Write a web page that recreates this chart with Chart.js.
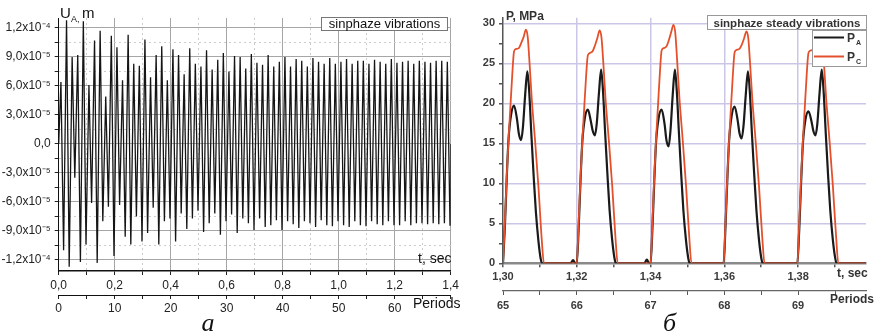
<!DOCTYPE html>
<html>
<head>
<meta charset="utf-8">
<script src="https://cdn.jsdelivr.net/npm/chart.js@4.4.1/dist/chart.umd.min.js"></script>
<style>
  html, body { margin: 0; padding: 0; background: #fff; }
  #wrap { position: relative; width: 878px; height: 336px; overflow: hidden; }
  #left { position: absolute; left: 0; top: 0; }
  #right { position: absolute; left: 470px; top: 0; }
</style>
</head>
<body>
<div id="wrap">
  <canvas id="left" width="470" height="336"></canvas>
  <canvas id="right" width="408" height="336"></canvas>
</div>
<script>
// ---- panel a: displacement U_A, in units of 1e-5 m ----
const periodSec = 0.02;
const firstPeakSec = 0.008;
const troughLagSec = 0.0095;
const peakMax = [
  6.4, 12.8, 9.0, 9.2, 12.7, 6.1, 10.7, 11.7, 4.9, 11.2,
  10.0, 6.6, 11.3, 8.3, 8.1, 10.8, 6.9, 9.2, 10.1, 6.6,
  9.8, 9.2, 7.2, 9.9, 8.3, 8.0, 9.7, 7.7, 8.7, 9.4,
  7.5, 9.1, 9.0, 7.8, 9.3, 8.4, 8.2, 9.2, 8.0, 8.5,
  9.0, 8.0, 8.8, 8.6, 8.0, 8.9, 8.5, 8.3, 8.9, 8.3,
  8.5, 8.8, 8.3, 8.6, 8.6, 8.3, 8.7, 8.5, 8.3, 8.8,
  8.4, 8.5, 8.6, 8.3, 8.6, 8.5, 8.4, 8.6, 8.6, 8.5
];
const peakMin = [
  -11.0, -12.7, -3.5, -12.2, -10.4, -6.1, -12.3, -8.0, -6.5, -11.6,
  -6.3, -9.6, -10.4, -7.5, -10.1, -9.2, -6.6, -10.4, -8.0, -7.7,
  -10.1, -7.2, -8.8, -7.7, -6.9, -9.1, -8.2, -7.2, -9.4, -8.0,
  -7.3, -9.2, -7.7, -8.2, -8.9, -7.7, -8.6, -8.4, -7.9, -8.9,
  -8.0, -8.3, -8.7, -8.0, -8.2, -8.6, -7.9, -8.4, -8.5, -8.0,
  -8.4, -8.6, -8.0, -8.4, -8.5, -8.0, -8.3, -8.4, -8.0, -8.4,
  -8.4, -8.0, -8.4, -8.2, -8.2, -8.3, -8.2, -8.3, -8.2, -8.4
];

// ---- panel б: pressures, MPa ----
const pulseStartSec = [1.3000, 1.3200, 1.3400, 1.3598, 1.3798];
const offsetA_ms = [0, 0.5, 1.0, 1.5, 2.2, 3.0, 3.8, 4.3, 4.9, 5.4, 6.0, 6.6, 7.1, 7.7, 8.3, 8.9, 9.6, 10.2, 10.6];
const pA1 = [0, 4.5, 10.5, 15.5, 18.6, 19.7, 18.0, 16.2, 15.4, 17.0, 21.0, 24.0, 21.5, 16.0, 11.0, 6.5, 2.8, 0.6, 0];
const pA2 = [0, 4.3, 10.2, 15.2, 18.2, 19.2, 17.8, 16.6, 16.0, 17.4, 21.2, 24.2, 21.6, 16.2, 11.2, 6.6, 2.9, 0.7, 0];
const pA3 = [0, 4.3, 10.2, 15.2, 18.2, 19.2, 17.4, 15.4, 14.6, 16.6, 21.0, 24.2, 21.6, 16.2, 11.2, 6.6, 2.9, 0.7, 0];
const pA4 = [0, 4.5, 10.4, 15.4, 18.5, 19.6, 17.9, 16.3, 15.6, 17.2, 21.0, 24.0, 21.5, 16.0, 11.1, 6.6, 2.9, 0.7, 0];
const pA5 = [0, 4.2, 10.0, 15.0, 18.0, 19.0, 17.8, 16.6, 16.0, 17.4, 21.2, 24.2, 21.6, 16.2, 11.2, 6.7, 3.0, 0.8, 0];
const offsetC_ms = [0, 0.5, 1.0, 1.5, 2.0, 2.5, 3.0, 3.6, 4.3, 4.9, 5.6, 6.2, 6.7, 7.2, 7.8, 8.7, 9.6, 10.5, 11.1];
const pC1 = [0, 5.0, 10.8, 15.5, 19.5, 23.5, 26.5, 26.8, 26.9, 27.5, 28.3, 29.2, 28.3, 25.0, 20.5, 15.3, 9.6, 3.0, 0];
const pC2 = [0, 5.0, 10.6, 15.3, 19.3, 23.2, 26.0, 26.3, 26.5, 27.2, 28.2, 29.1, 28.2, 25.0, 20.5, 15.3, 9.7, 3.1, 0];
const pC3 = [0, 5.0, 10.8, 15.6, 19.6, 23.6, 26.6, 26.9, 27.1, 27.8, 28.9, 29.8, 28.8, 25.4, 20.8, 15.5, 9.8, 3.2, 0];
const pC4 = [0, 5.0, 10.8, 15.5, 19.5, 23.5, 26.4, 26.7, 26.8, 27.3, 28.2, 29.0, 28.1, 24.8, 20.4, 15.2, 9.6, 3.1, 0];
const pC5 = [0, 5.0, 10.7, 15.4, 19.4, 23.4, 26.3, 26.6, 26.8, 27.4, 28.3, 29.1, 28.2, 25.0, 20.6, 15.4, 9.8, 3.3, 0];
const bumpSec = [1.3183, 1.3190, 1.3196, 1.3383, 1.3390, 1.3396];
const bumpA = [0, 0.4, 0, 0, 0.45, 0];
const rightEndSec = 1.3984;

const SANS = "'Liberation Sans', Arial, sans-serif";
const SERIF = "'Liberation Serif', 'Times New Roman', serif";

function buildLeft() {
  const pts = [{ x: 0, y: 0 }];
  peakMax.forEach((v, k) => {
    const t = firstPeakSec + k * periodSec;
    pts.push({ x: t, y: v });
    pts.push({ x: t + troughLagSec, y: peakMin[k] });
  });
  pts.push({ x: 1.4, y: 0 });
  return pts;
}

function buildPulses(offsets, series, extraX, extraY) {
  const pts = [];
  series.forEach((vals, k) => {
    vals.forEach((v, i) => pts.push({ x: pulseStartSec[k] + offsets[i] / 1000, y: v }));
  });
  if (extraX) extraX.forEach((x, i) => pts.push({ x: x, y: extraY[i] }));
  pts.push({ x: rightEndSec, y: 0 });
  pts.sort((a, b) => a.x - b.x);
  return pts;
}

function sciLabel(v) {
  if (Math.abs(v) < 1e-6) return '0,0';
  const a = Math.abs(v);
  if (a >= 10) return (v / 10).toFixed(1).replace('.', ',') + 'x10⁻⁴';
  return v.toFixed(1).replace('.', ',') + 'x10⁻⁵';
}

const isMajorT = v => Math.abs(Math.round(v * 10)) % 2 === 0;
const isMajorU = v => Math.abs(Math.round(v / 1.5)) % 2 === 0;

const leftText = {
  id: 'leftText',
  afterDraw(chart) {
    const c = chart.ctx;
    c.save();
    c.fillStyle = '#111';
    c.textBaseline = 'alphabetic';
    c.font = '15px ' + SANS;
    c.fillText('U', 60, 18);
    c.font = '9px ' + SANS;
    c.fillText('A,', 71, 22);
    c.font = '15px ' + SANS;
    c.fillText('m', 82, 18);
    c.font = '14px ' + SANS;
    c.fillText('t, sec', 418, 263);
    c.fillText('Periods', 413, 308);
    // legend box
    c.fillStyle = '#fff';
    c.fillRect(321, 17, 127, 14);
    c.strokeStyle = '#777';
    c.lineWidth = 1;
    c.strokeRect(321.5, 17.5, 126, 13);
    c.fillStyle = '#111';
    c.font = '13px ' + SANS;
    c.textAlign = 'center';
    c.fillText('sinphaze vibrations', 384.5, 28);
    c.font = 'italic 26px ' + SERIF;
    c.fillText('a', 208, 331);
    c.restore();
  }
};

const rightText = {
  id: 'rightText',
  afterDraw(chart) {
    const c = chart.ctx;
    c.save();
    c.fillStyle = '#333';
    c.font = 'bold 12px ' + SANS;
    c.fillText('P, MPa', 36, 20);
    c.fillText('t, sec', 367, 277);
    c.fillText('Periods', 360, 303);
    // legend
    c.fillStyle = '#fff';
    c.fillRect(237, 15, 160, 15);
    c.fillRect(342, 30, 55, 37);
    c.strokeStyle = '#999';
    c.lineWidth = 1;
    c.strokeRect(237.5, 15.5, 159, 14);
    c.strokeRect(342.5, 30.5, 54, 36);
    c.fillStyle = '#333';
    c.textAlign = 'center';
    c.font = 'bold 11.5px ' + SANS;
    c.fillText('sinphaze steady vibrations', 317, 27);
    c.textAlign = 'left';
    c.lineWidth = 2;
    c.strokeStyle = '#1a1a1a';
    c.beginPath(); c.moveTo(344, 37.5); c.lineTo(374, 37.5); c.stroke();
    c.strokeStyle = '#e5502c';
    c.beginPath(); c.moveTo(344, 56.5); c.lineTo(374, 56.5); c.stroke();
    c.font = 'bold 12px ' + SANS;
    c.fillText('P', 377, 42);
    c.fillText('P', 377, 61);
    c.font = 'bold 7px ' + SANS;
    c.fillText('A', 386, 45);
    c.fillText('C', 386, 64);
    c.fillStyle = '#111';
    c.font = 'italic 26px ' + SERIF;
    c.fillText('б', 193, 331);
    c.restore();
  }
};

new Chart(document.getElementById('left'), {
  type: 'line',
  data: {
    datasets: [{
      data: buildLeft(),
      xAxisID: 'x', yAxisID: 'y',
      borderColor: '#151515', borderWidth: 1.3,
      pointRadius: 0, tension: 0
    }]
  },
  options: {
    responsive: false, animation: false,
    layout: { padding: { left: 0, right: 19.3, top: 18, bottom: 21 } },
    plugins: { legend: { display: false }, tooltip: { enabled: false } },
    scales: {
      x: {
        type: 'linear', position: 'bottom', weight: 0, min: 0, max: 1.4,
        afterFit: s => { s.height = 24; },
        ticks: {
          stepSize: 0.1, autoSkip: false, maxRotation: 0, includeBounds: false, padding: 3,
          color: '#222', font: { family: SANS, size: 12 },
          callback: v => isMajorT(v) ? v.toFixed(1).replace('.', ',') : ''
        },
        grid: {
          color: ctx => ctx.tick && isMajorT(ctx.tick.value) ? '#a6a6a6' : '#cccccc',
          lineWidth: 1, tickLength: 4, tickColor: '#222'
        },
        border: { color: '#111', width: 1.5, dash: ctx => ctx.tick && !isMajorT(ctx.tick.value) ? [2, 3] : [] }
      },
      xp: {
        type: 'linear', position: 'bottom', weight: 1, min: 0, max: 70,
        afterFit: s => { s.height = 20; },
        ticks: {
          stepSize: 5, autoSkip: false, maxRotation: 0, padding: 2,
          color: '#222', font: { family: SANS, size: 12 },
          callback: v => (Math.round(v) % 10 === 0 && v < 70) ? String(v) : ''
        },
        grid: { drawOnChartArea: false, tickLength: 4, tickColor: '#222' },
        border: { color: '#111', width: 1 }
      },
      y: {
        type: 'linear', min: -13.14, max: 13.03,
        afterFit: s => { s.width = 58.7; },
        ticks: {
          stepSize: 1.5, autoSkip: false, includeBounds: false, padding: 4,
          color: '#222', font: { family: SANS, size: 12 },
          callback: v => isMajorU(v) ? sciLabel(v) : ''
        },
        grid: {
          color: ctx => ctx.tick && isMajorU(ctx.tick.value) ? '#a6a6a6' : '#cccccc',
          lineWidth: 1, tickLength: 4, tickColor: '#222'
        },
        border: { color: '#111', width: 1, dash: ctx => ctx.tick && !isMajorU(ctx.tick.value) ? [2, 3] : [] }
      }
    }
  },
  plugins: [leftText]
});

const lavender = '#cbc6e6';
const isMajorR = v => Math.abs(Math.round(v * 100)) % 2 === 0;

new Chart(document.getElementById('right'), {
  type: 'line',
  data: {
    datasets: [
      {
        label: 'PC',
        data: buildPulses(offsetC_ms, [pC1, pC2, pC3, pC4, pC5]),
        xAxisID: 'x', yAxisID: 'y',
        borderColor: '#e5502c', borderWidth: 1.8,
        pointRadius: 0, cubicInterpolationMode: 'monotone'
      },
      {
        label: 'PA',
        data: buildPulses(offsetA_ms, [pA1, pA2, pA3, pA4, pA5], bumpSec, bumpA),
        xAxisID: 'x', yAxisID: 'y',
        borderColor: '#1a1a1a', borderWidth: 2.2,
        pointRadius: 0, cubicInterpolationMode: 'monotone'
      }
    ]
  },
  options: {
    responsive: false, animation: false,
    layout: { padding: { left: 0, right: 12, top: 17.7, bottom: 25 } },
    plugins: { legend: { display: false }, tooltip: { enabled: false } },
    scales: {
      x: {
        type: 'linear', position: 'bottom', weight: 0, min: 1.30, max: rightEndSec,
        afterFit: s => { s.height = 27.7; },
        ticks: {
          stepSize: 0.01, autoSkip: false, maxRotation: 0, includeBounds: false, padding: 3,
          color: '#3a3a3a', font: { family: SANS, size: 11, weight: 'bold' },
          callback: v => isMajorR(v) ? v.toFixed(2).replace('.', ',') : ''
        },
        grid: {
          color: ctx => ctx.tick && isMajorR(ctx.tick.value) && ctx.tick.value > 1.305 ? lavender : 'rgba(0,0,0,0)',
          lineWidth: 1.5, tickLength: 4, tickColor: '#555'
        },
        border: { color: '#8a8a8a', width: 2.5 }
      },
      xp: {
        type: 'linear', position: 'bottom', weight: 1, min: 65, max: 65 + (rightEndSec - 1.30) / periodSec,
        afterFit: s => { s.height = 20; },
        ticks: {
          stepSize: 0.5, autoSkip: false, maxRotation: 0, includeBounds: false, padding: 4,
          color: '#3a3a3a', font: { family: SANS, size: 11, weight: 'bold' },
          callback: v => Number.isInteger(v) ? String(v) : ''
        },
        grid: { drawOnChartArea: false, tickLength: 4, tickColor: '#555' },
        border: { color: '#666', width: 1.2 }
      },
      y: {
        type: 'linear', min: 0, max: 30.7,
        afterFit: s => { s.width = 33; },
        ticks: {
          stepSize: 2.5, autoSkip: false, includeBounds: false, padding: 4,
          color: '#3a3a3a', font: { family: SANS, size: 11, weight: 'bold' },
          callback: v => (Math.round(v) === v && v % 5 === 0) ? String(v) : ''
        },
        grid: {
          color: ctx => ctx.tick && ctx.tick.value > 0 && ctx.tick.value % 5 === 0 ? lavender : 'rgba(0,0,0,0)',
          lineWidth: 1.5, tickLength: 4, tickColor: '#555'
        },
        border: { color: '#555', width: 1.5 }
      }
    }
  },
  plugins: [rightText]
});
</script>
</body>
</html>
